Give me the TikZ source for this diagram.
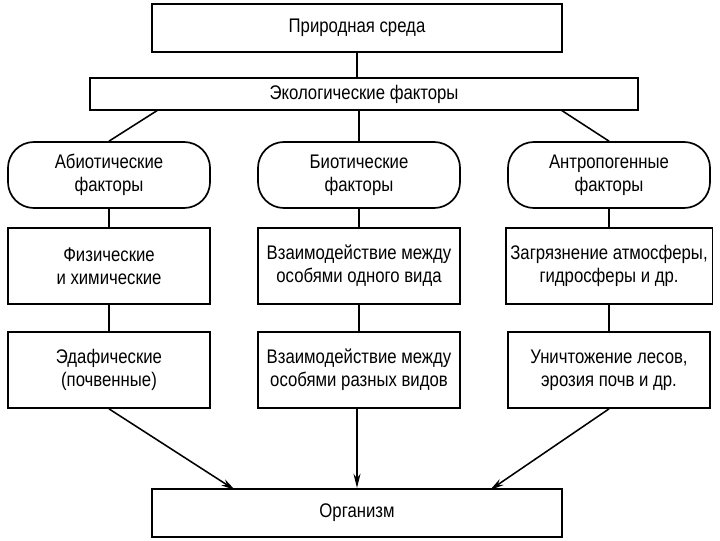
\documentclass[tikz,border=0pt]{standalone}
\usepackage{fontspec}
\setmainfont{Liberation Sans}[FakeStretch=0.85]
\usetikzlibrary{arrows.meta}

\begin{document}
\begin{tikzpicture}[x=0.025cm,y=-0.025cm,
  font=\fontsize{14}{16.5}\selectfont,
  frame/.style={draw,line width=1.7pt,minimum width=10.25cm,minimum height=1.2cm},
  factor/.style={draw,line width=1.2pt,rounded corners=0.65cm,minimum width=5.05cm,minimum height=1.65cm,align=center},
  kind/.style={draw,line width=1.2pt,minimum width=5.05cm,minimum height=1.9cm,align=center},
  link/.style={line width=1.1pt},
  into/.style={line width=1.1pt,-{Stealth[length=10pt,width=5pt]}}]
\useasboundingbox (0,0) rectangle (720,540);
% top
\node[frame] (env) at (357,28) {Природная среда};
\node[draw,line width=1.2pt,minimum width=13.7cm,minimum height=0.8cm] (eco) at (364,94) {Экологические факторы};
% factor groups
\node[factor] (abio) at (109,175) {Абиотические\\факторы};
\node[factor] (bio) at (359,175) {Биотические\\факторы};
\node[factor] (anthro) at (609,175) {Антропогенные\\факторы};
% kinds of factors
\node[kind] (phys) at (109,266) {Физические\\и химические};
\node[kind] (soil) at (109,370) {Эдафические\\(почвенные)};
\node[kind] (same) at (359,266) {Взаимодействие между\\особями одного вида};
\node[kind] (diff) at (359,370) {Взаимодействие между\\особями разных видов};
\node[kind] (air) at (609,266) {Загрязнение атмосферы,\\гидросферы и др.};
\node[kind] (wood) at (609,370) {Уничтожение лесов,\\эрозия почв и др.};
% bottom
\node[frame] (org) at (357,513) {Организм};

\draw[link] (env) -- (env|-eco.north);
\draw[link] (eco.south-|bio) -- (bio);
\draw[link] (158,110) -- (abio.north);
\draw[link] (561,110) -- (anthro.north);
\foreach \a/\b/\c in {abio/phys/soil,bio/same/diff,anthro/air/wood}{
  \draw[link] (\a) -- (\b);
  \draw[link] (\b) -- (\c);
}
\draw[into] (soil.south) -- (235,490);
\draw[into] (diff.south-|org) -- (org);
\draw[into] (wood.south) -- (490,490);
\end{tikzpicture}
\end{document}
